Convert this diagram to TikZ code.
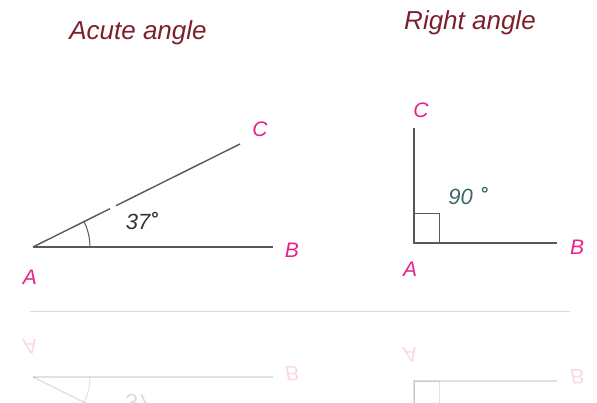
\documentclass[tikz,border=0pt]{standalone}
\usepackage{fontspec}
\setmainfont{Liberation Sans}
\usetikzlibrary{calc}
\definecolor{titlered}{RGB}{125,32,45}
\definecolor{labelpink}{RGB}{232,32,140}
\definecolor{legline}{RGB}{88,88,88}
\definecolor{degteal}{RGB}{62,102,108}
\definecolor{mirrorline}{RGB}{218,218,218}
\tikzset{
	leg/.style={draw=legline,line width=1.4pt},
	tick/.style={draw=legline,line width=1pt},
	ptlabel/.style={text=labelpink,anchor=base,inner sep=0pt,font=\itshape\fontsize{21}{21}\selectfont},
	degtext/.style={anchor=base,inner sep=0pt,font=\itshape\fontsize{22}{22}\selectfont},
	heading/.style={text=titlered,anchor=base,inner sep=0pt,font=\itshape\fontsize{26}{26}\selectfont}
}
\newcommand{\degsign}{\raisebox{0.22em}{\bfseries\fontsize{19}{19}\selectfont°}}
% both figures, #1 is a prefix for the node names
\newcommand{\anglepair}[1]{%
	\coordinate (#1aA) at (33,247); \coordinate (#1aB) at (273,247); \coordinate (#1aC) at (240,144);
	\draw[leg] (#1aA) -- ($(#1aA)!0.372!(#1aC)$) ($(#1aA)!0.401!(#1aC)$) -- (#1aC);
	\draw[leg] (#1aA) -- (#1aB);
	\draw[tick] (90,247) arc[start angle=0,end angle=-26.5,radius=57];
	\node[ptlabel] (#1aClab) at (260,137) {C};
	\node[ptlabel] (#1aBlab) at (292,258) {B};
	\node[ptlabel] (#1aAlab) at (30,285) {A};
	\node[degtext,text=black!80] (#1adeg) at (142,230) {37\degsign};
	\coordinate (#1rA) at (414,243); \coordinate (#1rB) at (557,243); \coordinate (#1rC) at (414,128);
	\draw[leg] (#1rC) -- (#1rA) -- (#1rB);
	\draw[tick] (#1rA) rectangle ++(25,-29);
	\node[ptlabel] (#1rClab) at (421,118) {C};
	\node[ptlabel] (#1rBlab) at (577,255) {B};
	\node[ptlabel] (#1rAlab) at (410,277) {A};
	\node[degtext,text=degteal] (#1rdeg) at (468,205) {90\,\,\degsign};
}

\begin{document}
\begin{tikzpicture}[x=1pt,y=-1pt]
	\useasboundingbox (0,0) rectangle (597,403);
	\clip (0,0) rectangle (597,403);
	\node[heading] (acutetitle) at (138,40) {Acute angle};
	\node[heading] (righttitle) at (470,30) {Right angle};
	\anglepair{}
	% faded mirror image under the floor line
	\draw[mirrorline,line width=1pt] (30,312) -- (570,312);
	\begin{scope}[shift={(0,624)},yscale=-1,transform shape,opacity=0.18]
		\anglepair{m}
	\end{scope}
\end{tikzpicture}
\end{document}
